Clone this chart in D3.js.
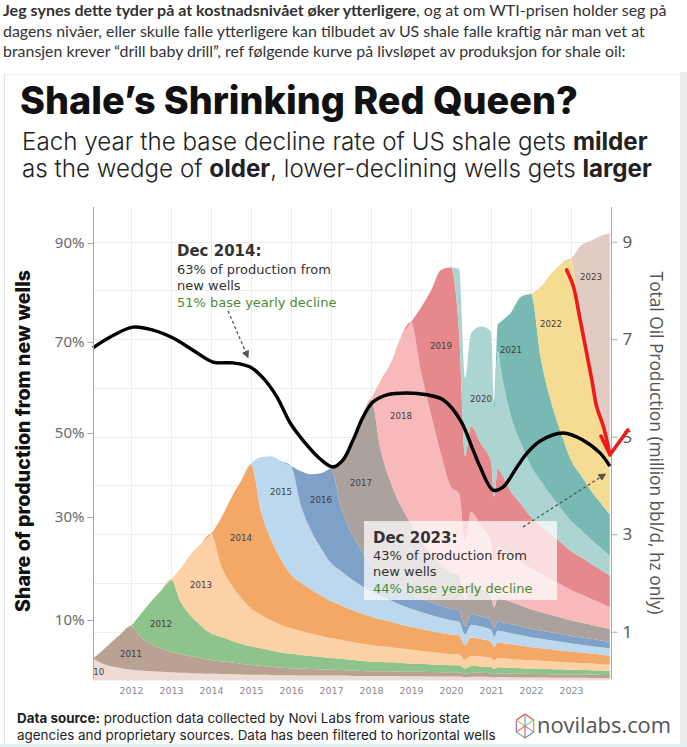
<!DOCTYPE html>
<html><head><meta charset="utf-8">
<script src="https://cdn.jsdelivr.net/npm/d3@7"></script>
<style>html,body{margin:0;padding:0;background:#fff;}svg{display:block;}</style>
</head><body>
<svg id="chart" width="687" height="747"></svg>
<script>
// ---------------- DATA ----------------
const times = [2011.05,2011.25,2011.5,2011.75,
 2012,2012.25,2012.5,2012.75, 2013,2013.25,2013.5,2013.75, 2014,2014.25,2014.5,2014.75,
 2015,2015.25,2015.5,2015.75, 2016,2016.25,2016.5,2016.75, 2017,2017.25,2017.5,2017.75,
 2018,2018.25,2018.5,2018.75, 2019,2019.25,2019.5,2019.75,
 2020,2020.2,2020.35,2020.5,2020.75,
 2021,2021.08,2021.17,2021.25,2021.5,2021.75,
 2022,2022.25,2022.5,2022.75,
 2023,2023.25,2023.5,2023.75,2023.97];

const vintageYears = [2010,2011,2012,2013,2014,2015,2016,2017,2018,2019,2020,2021,2022,2023];

// production by vintage, million bbl/d (each series starts at its first year)
const v2010 = [0.45,0.36,0.29,0.25, 0.22,0.205,0.19,0.18, 0.17,0.16,0.155,0.145, 0.14,0.135,0.13,0.125,
 0.12,0.12,0.115,0.11, 0.11,0.105,0.105,0.10, 0.10,0.10,0.095,0.09, 0.09,0.09,0.09,0.085, 0.085,0.085,0.08,0.08,
 0.08,0.08,0.065,0.075,0.075, 0.07,0.062,0.07,0.07,0.065,0.062, 0.06,0.06,0.058,0.057, 0.055,0.054,0.053,0.051,0.05];
const v2011 = [0,0.23,0.49,0.71, 0.90,0.68,0.56,0.48, 0.42,0.38,0.34,0.31, 0.28,0.26,0.24,0.22,
 0.20,0.185,0.165,0.15, 0.14,0.135,0.13,0.125, 0.12,0.115,0.11,0.105, 0.10,0.10,0.098,0.096, 0.095,0.094,0.092,0.091,
 0.09,0.09,0.072,0.086,0.084, 0.08,0.07,0.079,0.079,0.078,0.076, 0.075,0.073,0.072,0.07, 0.068,0.066,0.065,0.063,0.062];
const v2012 = [0,0.485,0.87,1.18, 1.48,1.06,0.83,0.67, 0.55,0.50,0.45,0.41, 0.38,0.355,0.335,0.315,
 0.30,0.285,0.27,0.255, 0.24,0.23,0.22,0.21, 0.20,0.19,0.185,0.178, 0.17,0.163,0.157,0.15,
 0.145,0.142,0.11,0.135,0.13, 0.125,0.108,0.122,0.121,0.118,0.115, 0.112,0.109,0.106,0.103, 0.10,0.097,0.094,0.091,0.088];
const v2013 = [0,0.71,1.275,1.675, 2.04,1.47,1.16,0.94, 0.78,0.69,0.62,0.565, 0.52,0.49,0.46,0.435,
 0.41,0.39,0.37,0.355, 0.34,0.325,0.31,0.295, 0.28,0.265,0.255,0.24,
 0.23,0.225,0.175,0.21,0.205, 0.19,0.165,0.188,0.186,0.18,0.173, 0.167,0.161,0.155,0.15, 0.145,0.14,0.135,0.13,0.125];
const v2014 = [0,0.965,1.76,2.395, 2.96,2.12,1.66,1.34, 1.10,0.99,0.90,0.83, 0.76,0.71,0.66,0.62,
 0.58,0.55,0.52,0.495, 0.47,0.45,0.43,0.415,
 0.40,0.39,0.30,0.37,0.355, 0.33,0.285,0.325,0.32,0.305,0.29, 0.27,0.26,0.25,0.235, 0.225,0.215,0.205,0.195,0.185];
const v2015 = [0,1.11,1.705,2.02, 2.23,1.58,1.21,0.97, 0.78,0.70,0.63,0.57, 0.52,0.48,0.44,0.40, 0.37,0.35,0.33,0.31,
 0.29,0.285,0.22,0.27,0.26, 0.245,0.21,0.24,0.237,0.225,0.215, 0.205,0.195,0.185,0.178, 0.17,0.163,0.157,0.15,0.145];
const v2016 = [0,0.705,1.155,1.535, 1.93,1.31,0.96,0.73, 0.55,0.45,0.38,0.33, 0.29,0.275,0.26,0.245,
 0.235,0.23,0.175,0.22,0.21, 0.20,0.17,0.195,0.193,0.185,0.178, 0.172,0.167,0.162,0.157, 0.152,0.148,0.145,0.142,0.14];
const v2017 = [0,0.905,1.825,2.68, 3.39,2.52,2.03,1.70, 1.45,1.2,1.0,0.86,
 0.75,0.72,0.54,0.64,0.57, 0.50,0.43,0.49,0.48,0.455,0.43, 0.40,0.38,0.36,0.34, 0.32,0.305,0.29,0.275,0.26];
const v2018 = [0,1.465,2.467,3.471, 4.14,3.45,2.85,2.25,
 1.75,1.68,1.2,1.45,1.28, 1.1,0.92,1.05,1.03,0.96,0.9, 0.84,0.78,0.73,0.68, 0.62,0.58,0.53,0.49,0.45];
const v2019 = [0,1.318,2.546,3.779,
 4.50,3.32,1.75,1.76,1.68, 1.65,1.35,1.6,1.55,1.3,1.18, 1.05,0.98,0.92,0.86, 0.8,0.76,0.72,0.68,0.65];
const v2020 = [0,1.288,1.593,1.904,2.411, 2.67,1.74,2.4,2.1,1.55,1.25, 1.05,0.92,0.8,0.7, 0.62,0.56,0.5,0.45,0.40];
const v2021 = [0,0.15,0.541,0.994,2.129,3.001, 3.529,2.5,1.93,1.55, 1.25,1.12,1.0,0.92,0.85];
const v2022 = [0,1.495,2.612,3.47, 4.125,3.0,2.3,1.66,1.2];
const v2023 = [0,1.712,2.826,3.823,4.575];
const vintageSeries = [v2010,v2011,v2012,v2013,v2014,v2015,v2016,v2017,v2018,v2019,v2020,v2021,v2022,v2023];

// share of production from new wells (%)
const shareTimes = [2011.05,2011.48,2012.05,2012.55,2013.05,2013.55,2014.05,2014.55,2014.98,2015.3,2015.65,2015.98,
 2016.4,2016.73,2017.05,2017.3,2017.55,2017.8,2018.05,2018.4,2018.9,2019.4,2019.8,2020.23,2020.55,2020.73,
 2021.05,2021.3,2021.65,2021.9,2022.23,2022.8,2023.3,2023.73,2023.97];
const shareValues = [68.7,71.0,73.0,72.4,70.8,68.2,65.6,65.4,64.5,62.1,57.9,52.2,
 47.1,43.8,41.9,43.6,48.3,53.5,56.8,58.4,58.8,58.4,57.3,52.9,46.0,41.9,
 36.4,37.1,41.9,45.2,48.1,50.0,48.3,45.2,42.1];

const yearTicks = [2012,2013,2014,2015,2016,2017,2018,2019,2020,2021,2022,2023];
const leftTicks = [10,30,50,70,90];
const rightTicks = [1,3,5,7,9];
const gridValues = [1,2,3,4,5,6,7,8,9];
const labelTimes = [2011.33,2012.0,2012.75,2013.75,2014.75,2015.75,2016.75,2017.75,2018.75,2019.75,2020.75,2021.5,2022.5,2023.5];
const labelFracs = [0.5,0.36,0.42,0.5,0.51,0.69,0.64,0.51,0.53,0.59,0.38,0.64,0.61,0.74];
const redArrowPath = [[2022.89,8.42],[2023.06,8.08],[2023.23,7.39],[2023.39,6.72],[2023.52,6.17],[2023.64,5.62],[2023.81,5.21],[2023.975,4.63]];
const redArrowHead = [[2023.75,5.01],[2023.975,4.63],[2024.425,5.14]];

// ---------------- STYLE ----------------
const vintageColors = ['#eddbd4','#b9a194','#8ec48b','#fcd1a6','#f4a867','#bcd8ef','#7fa0c7','#aba29e',
  '#f8b9bb','#e6898c','#acd5d1','#79b9b4','#f6dc93','#e2cbc3'];
const W = 687, H = 747;
const svg = d3.select('#chart');
const fitText = (sel, w) => {
  const len = sel.node().getComputedTextLength();
  if (len > 0) sel.attr('font-size', (+sel.attr('font-size') * w / len).toFixed(2));
};

// page / card
svg.append('rect').attr('width',W).attr('height',H).attr('fill','#fff');
svg.append('rect').attr('x',680).attr('y',72).attr('width',7).attr('height',H-72).attr('fill','#ececec');
svg.append('line').attr('x1',4.5).attr('x2',4.5).attr('y1',74).attr('y2',H).attr('stroke','#e0e0e0');
svg.append('line').attr('x1',4).attr('x2',680).attr('y1',74.5).attr('y2',74.5).attr('stroke','#efefef');
svg.append('rect').attr('x',0).attr('y',744).attr('width',W).attr('height',3).attr('fill','#dff3f3');

// intro paragraph
const para = svg.append('g').attr('font-family','Lato, "Open Sans", sans-serif').attr('fill','#333');
const p1 = para.append('text').attr('x',3).attr('y',16).attr('font-size',16);
p1.append('tspan').attr('font-weight',700).text('Jeg synes dette tyder på at kostnadsnivået øker ytterligere');
p1.append('tspan').text(', og at om WTI-prisen holder seg på');
fitText(p1, 664);
const p2 = para.append('text').attr('x',3).attr('y',36.5).attr('font-size',16)
  .text('dagens nivåer, eller skulle falle ytterligere kan tilbudet av US shale falle kraftig når man vet at');
fitText(p2, 642);
const p3 = para.append('text').attr('x',3).attr('y',57).attr('font-size',16)
  .text('bransjen krever “drill baby drill”, ref følgende kurve på livsløpet av produksjon for shale oil:');
fitText(p3, 623);

// title + subtitle
const title = svg.append('text').attr('x',20).attr('y',114).attr('font-size',36)
  .attr('font-family','Inter, "Open Sans", sans-serif').attr('font-weight',800).attr('fill','#111')
  .text('Shale’s Shrinking Red Queen?');
fitText(title, 558);
const s1 = svg.append('text').attr('x',22).attr('y',150).attr('font-size',23)
  .attr('font-family','Inter, "Open Sans", sans-serif').attr('font-weight',300).attr('fill','#222');
s1.append('tspan').text('Each year the base decline rate of US shale gets ');
s1.append('tspan').attr('font-weight',700).text('milder');
fitText(s1, 626);
const s2 = svg.append('text').attr('x',22).attr('y',177).attr('font-size',23)
  .attr('font-family','Inter, "Open Sans", sans-serif').attr('font-weight',300).attr('fill','#222');
s2.append('tspan').text('as the wedge of ');
s2.append('tspan').attr('font-weight',700).text('older');
s2.append('tspan').text(', lower-declining wells gets ');
s2.append('tspan').attr('font-weight',700).text('larger');
fitText(s2, 630);

// ---------------- SCALES ----------------
const plotTop = 207, plotBottom = 679;
const x = d3.scaleLinear().domain([2011.05, 2024]).range([93, 611]);
const yR = d3.scaleLinear().domain([0, 9]).range([680.5, 241.7]);
const yL = d3.scaleLinear().domain([10,30,50,70,90]).range([620,517,433,342,243]);

// grid
const grid = svg.append('g').attr('stroke','#ececec').attr('stroke-width',1);
grid.selectAll('line.v').data(yearTicks).join('line').attr('class','v')
  .attr('x1',d=>Math.round(x(d))+0.5).attr('x2',d=>Math.round(x(d))+0.5).attr('y1',plotTop).attr('y2',plotBottom);
grid.selectAll('line.h').data(gridValues).join('line').attr('class','h')
  .attr('x1',x.range()[0]).attr('x2',x.range()[1]).attr('y1',d=>Math.round(yR(d))+0.5).attr('y2',d=>Math.round(yR(d))+0.5);

// ---------------- STACKED AREAS ----------------
const rows = times.map((t,i) => {
  const r = {t};
  vintageYears.forEach((yr,k) => {
    const s = vintageSeries[k], off = times.length - s.length;
    r[yr] = i >= off ? s[i-off] : 0;
  });
  return r;
});
const stacked = d3.stack().keys(vintageYears)(rows);
svg.append('clipPath').attr('id','plotClip').append('rect')
  .attr('x',x.range()[0]).attr('y',plotTop).attr('width',x.range()[1]-x.range()[0]).attr('height',plotBottom-plotTop+2);
const area = d3.area().x(d=>x(d.data.t)).y0(d=>yR(d[0])).y1(d=>yR(d[1])).curve(d3.curveMonotoneX);
const areasG = svg.append('g').attr('clip-path','url(#plotClip)');
areasG.selectAll('path').data(stacked).join('path')
  .attr('d',area).attr('fill',(d,i)=>vintageColors[i]);

// band labels
const labG = areasG.append('g').attr('font-family','"DejaVu Sans", Verdana, sans-serif')
  .attr('font-size',8.6).attr('fill','#3d3d3d');
stacked.forEach((layer,k) => {
  const idx = d3.minIndex(times, t => Math.abs(t - labelTimes[k]));
  const p = layer[idx];
  const yy = yR(p[0] + labelFracs[k]*(p[1]-p[0]));
  labG.append('text').attr('x', x(labelTimes[k])).attr('y', yy).attr('dy','0.35em')
    .attr('text-anchor', k===0 ? 'end' : 'middle').text(vintageYears[k]);
});

// ---------------- ANNOTATION BOX 2 ----------------
svg.append('rect').attr('x',364).attr('y',521).attr('width',193).attr('height',79)
  .attr('fill','#fff').attr('fill-opacity',0.72);

// ---------------- SHARE LINE ----------------
const shareLine = d3.line().x((d,i)=>x(shareTimes[i])).y(d=>yL(d)).curve(d3.curveCatmullRom.alpha(0.5));
svg.append('path').attr('d',shareLine(shareValues)).attr('fill','none').attr('stroke','#000')
  .attr('stroke-width',3.4).attr('stroke-linejoin','round');

// ---------------- AXES ----------------
const axisCol = '#a8a8a8';
svg.append('line').attr('x1',93.5).attr('x2',93.5).attr('y1',plotTop).attr('y2',plotBottom).attr('stroke',axisCol);
svg.append('line').attr('x1',611.5).attr('x2',611.5).attr('y1',plotTop).attr('y2',plotBottom).attr('stroke',axisCol);
const gL = svg.append('g').attr('transform','translate(93.5,0)')
  .call(d3.axisLeft(yL).tickValues(leftTicks).tickFormat(d=>d+'%').tickSize(6).tickPadding(3));
gL.select('.domain').remove();
gL.selectAll('line').attr('stroke',axisCol);
gL.selectAll('text').attr('font-family','"Noto Sans", "Open Sans", sans-serif').attr('font-size',15).attr('fill','#6a6a6a');
const gR = svg.append('g').attr('transform','translate(611.5,0)')
  .call(d3.axisRight(yR).tickValues(rightTicks).tickSize(6).tickPadding(5));
gR.select('.domain').remove();
gR.selectAll('line').attr('stroke',axisCol);
gR.selectAll('text').attr('font-family','"Noto Sans", "Open Sans", sans-serif').attr('font-size',17).attr('fill','#5a5a5a');
const gB = svg.append('g').attr('transform','translate(0,679)')
  .call(d3.axisBottom(x).tickValues(yearTicks).tickFormat(d3.format('d')).tickSize(0).tickPadding(8));
gB.select('.domain').remove();
gB.selectAll('text').attr('font-family','"DejaVu Sans", Verdana, sans-serif').attr('font-size',9.5).attr('fill','#8a8a8a');

// axis titles
const lt = svg.append('text').attr('transform','translate(30,441) rotate(-90)').attr('text-anchor','middle')
  .attr('font-family','Inter, "Open Sans", sans-serif').attr('font-weight',800).attr('font-size',20).attr('fill','#111')
  .text('Share of production from new wells');
fitText(lt, 342);
const rt = svg.append('text').attr('transform','translate(650,443) rotate(90)').attr('text-anchor','middle')
  .attr('font-family','"Open Sans", "Noto Sans", sans-serif').attr('font-size',19).attr('fill','#555')
  .text('Total Oil Production (million bbl/d, hz only)');
fitText(rt, 343);

// ---------------- ANNOTATIONS ----------------
const defs = svg.append('defs');
defs.append('marker').attr('id','ah').attr('viewBox','0 0 10 10').attr('refX',8).attr('refY',5)
  .attr('markerWidth',6).attr('markerHeight',6).attr('orient','auto')
  .append('path').attr('d','M0,0 L10,5 L0,10 z').attr('fill','#555');

const annFont = '"DejaVu Sans", Verdana, sans-serif';
function annotation(x0, ys, lines) {
  const g = svg.append('g').attr('font-family', annFont);
  lines.forEach((ln,i) => {
    g.append('text').attr('x',x0).attr('y',ys[i]).attr('font-size',ln.b?15:13)
      .attr('font-weight',ln.b?'bold':'normal').attr('fill',ln.c||'#333').text(ln.t);
  });
}
annotation(177,[256,273.5,290,307],[
  {t:'Dec 2014:',b:true},{t:'63% of production from'},{t:'new wells'},{t:'51% base yearly decline',c:'#4e8a33'}]);
annotation(373,[543,559.5,576,592.5],[
  {t:'Dec 2023:',b:true},{t:'43% of production from'},{t:'new wells'},{t:'44% base yearly decline',c:'#4e8a33'}]);

svg.append('line').attr('x1',228).attr('y1',311).attr('x2',x(2014.92)).attr('y2',yL(64.5)-10)
  .attr('stroke','#555').attr('stroke-width',1.3).attr('stroke-dasharray','3,2.5').attr('marker-end','url(#ah)');
svg.append('line').attr('x1',523).attr('y1',527).attr('x2',x(2023.85)).attr('y2',yL(42.8)+11)
  .attr('stroke','#555').attr('stroke-width',1.3).attr('stroke-dasharray','3,2.5').attr('marker-end','url(#ah)');

// red hand-drawn arrow
const redLine = d3.line().x(d=>x(d[0])).y(d=>yR(d[1])).curve(d3.curveCatmullRom.alpha(0.5));
svg.append('path').attr('d',redLine(redArrowPath)).attr('fill','none').attr('stroke','#ec1c1c')
  .attr('stroke-width',3.6).attr('stroke-linecap','round');
svg.append('path').attr('d',d3.line().x(d=>x(d[0])).y(d=>yR(d[1]))(redArrowHead)).attr('fill','none')
  .attr('stroke','#ec1c1c').attr('stroke-width',3.6).attr('stroke-linecap','round').attr('stroke-linejoin','round');

// ---------------- FOOTER ----------------
const f1 = svg.append('text').attr('x',17).attr('y',723).attr('font-size',14)
  .attr('font-family','Inter, "Open Sans", sans-serif').attr('fill','#222');
f1.append('tspan').attr('font-weight',700).text('Data source:');
f1.append('tspan').text(' production data collected by Novi Labs from various state');
fitText(f1, 453);
const f2 = svg.append('text').attr('x',17).attr('y',740).attr('font-size',14)
  .attr('font-family','Inter, "Open Sans", sans-serif').attr('fill','#222')
  .text('agencies and proprietary sources. Data has been filtered to horizontal wells');
fitText(f2, 479);
const nv = svg.append('text').attr('x',537).attr('y',733).attr('font-size',24)
  .attr('font-family','"Open Sans", "Noto Sans", sans-serif').attr('fill','#555').text('novilabs.com');
fitText(nv, 134);
// logo mark
const logo = svg.append('g').attr('transform','translate(525,726)').attr('fill','none').attr('stroke-width',1.4);
const hex = d3.range(6).map(i => [10*Math.cos(Math.PI/3*i - Math.PI/2), 12*Math.sin(Math.PI/3*i - Math.PI/2)]);
const logoCols = ['#e8554e','#f0a04b','#5b9bd5','#6cc08b','#9b7fc9','#e8554e'];
hex.forEach((p,i) => {
  const q = hex[(i+1)%6];
  logo.append('line').attr('x1',p[0]).attr('y1',p[1]).attr('x2',q[0]).attr('y2',q[1]).attr('stroke',logoCols[i]);
  logo.append('line').attr('x1',0).attr('y1',0).attr('x2',p[0]).attr('y2',p[1]).attr('stroke',logoCols[(i+2)%6]).attr('stroke-opacity',0.8);
});
</script>
</body></html>
